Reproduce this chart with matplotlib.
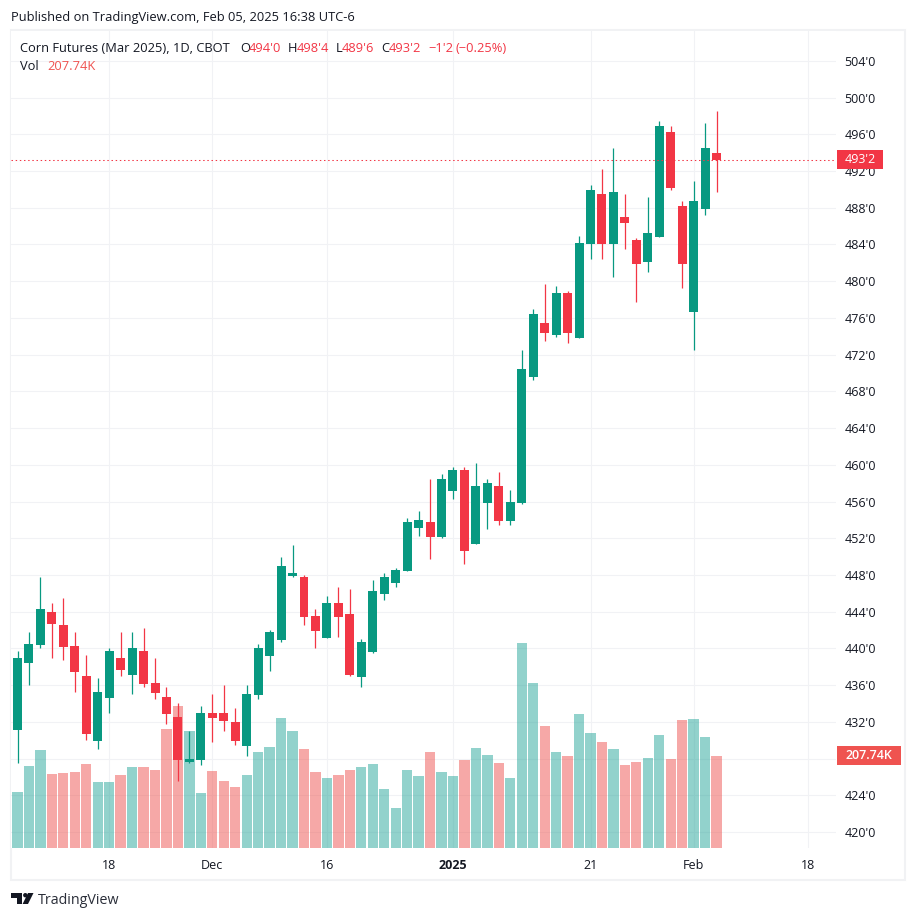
import matplotlib
matplotlib.use("Agg")
import matplotlib.pyplot as plt
from matplotlib.patches import Rectangle, Polygon, Circle
from matplotlib.transforms import IdentityTransform

FONT = "Open Sans"
plt.rcParams['font.family'] = [FONT, 'DejaVu Sans']

opens = [431.1,438.4,440.4,444.0,442.5,440.3,437.0,429.9,434.6,438.95,437.1,439.7,436.2,434.7,432.5,
         427.6,427.85,433.0,433.0,432.0,429.4,434.9,439.2,440.9,447.9,447.8,443.5,441.15,444.95,443.75,
         436.9,439.6,445.9,447.1,448.4,453.1,453.75,452.15,457.15,459.45,451.4,455.85,457.7,453.9,455.85,
         469.55,475.45,474.15,478.7,473.8,484.05,489.5,484.05,487.0,484.5,482.1,484.8,496.25,488.2,476.65,
         487.85,494.0]
highs = [439.75,441.8,447.8,444.9,445.5,441.8,439.3,436.8,440.0,441.8,441.8,442.2,438.95,435.8,434.05,
         431.0,433.7,435.0,436.0,433.5,436.0,440.5,442.0,450.0,451.25,448.0,444.3,445.7,446.7,446.5,
         441.0,447.45,448.2,448.75,454.2,455.0,458.45,459.0,459.75,459.75,460.2,458.45,459.2,457.25,472.5,
         477.0,479.7,479.5,478.95,484.9,490.5,492.2,494.5,489.5,484.7,489.2,497.45,496.9,488.75,490.9,
         497.25,498.5]
lows = [427.5,436.0,440.0,439.0,438.7,435.25,430.0,429.0,433.0,437.0,435.0,435.8,434.5,431.8,425.55,
        427.5,427.3,429.8,431.0,429.5,428.3,434.5,437.5,440.7,447.8,442.55,440.0,441.15,441.25,437.0,
        435.8,439.5,445.25,446.7,448.4,452.25,449.75,452.0,456.25,449.2,451.4,453.0,453.45,453.45,455.75,
        469.25,473.5,473.9,473.25,473.8,482.4,482.4,480.45,483.5,477.75,481.0,484.8,489.95,479.25,472.5,
        487.2,489.75]
closes = [439.0,440.5,444.3,442.7,440.2,437.4,430.7,435.25,439.7,437.65,440.0,436.1,435.15,432.85,427.85,
          427.95,433.0,432.4,432.1,429.9,435.0,440.0,441.8,449.0,448.2,443.4,441.9,444.95,443.4,437.1,
          440.7,446.25,447.8,448.55,453.75,454.0,452.15,458.45,459.45,450.6,457.7,458.0,453.9,455.95,470.45,
          476.45,474.35,478.7,474.35,484.15,489.95,484.05,489.7,486.35,481.85,485.25,496.9,490.15,481.85,488.75,
          494.5,493.25]
volumes = [126.5,185,221,167,169,172,190,149,149,165,183,183,176,269,321,264,124,174,151,138,165,217,228,294,264,
           224,172,158,165,176,183,190,133,90,176,163,217,172,163,199,226,210,192,158,463,373,275,217,208,303,
           260,239,224,187,194,203,255,201,289,291,251,207.74]
date_ticks = [8, 17, 27, 38, 50, 59, 69]
date_labels = ["18", "Dec", "16", "2025", "21", "Feb", "18"]
price_ticks = list(range(420, 508, 4))
hidden_price_labels = [428]  # covered by the volume tag in the reference
last_price_label = "493'2"
last_volume_label = "207.74K"

UP, DOWN = "#089981", "#F23645"
VUP, VDOWN = "#26A69A", "#EF5350"
GRID = "#F1F2F5"
TXT = "#131722"

W, H = 916, 919
fig = plt.figure(figsize=(W/100, H/100), dpi=100, facecolor="white")

L, R, T, B = 11, 836, 31, 848
rect = [L/W, (H-B)/H, (R-L)/W, (B-T)/H]
X0, DX = 17.5, 11.46
xlim = ((L-X0)/DX, (R-X0)/DX)
PPU = 9.18
ylim = (420-(B-832)/PPU, 420+(832-T)/PPU)

ax = fig.add_axes(rect, zorder=0)
ax.set_xlim(xlim); ax.set_ylim(ylim)
ax.set_yticks(price_ticks)
ax.set_yticklabels(["" if p in hidden_price_labels else f"{p}'0" for p in price_ticks], fontsize=9.0, color=TXT)
ax.yaxis.tick_right()
ax.set_xticks(date_ticks)
ax.set_xticklabels(date_labels, fontsize=9.0, color=TXT)
ax.get_xticklabels()[3].set_fontweight("bold")
ax.tick_params(axis="y", length=0, pad=6.0)
ax.tick_params(axis="x", length=0, pad=8.0)
ax.grid(True, color=GRID, lw=0.75)
ax.set_axisbelow(True)
for s in ax.spines.values():
    s.set_visible(False)

xs = list(range(len(closes)))
is_up = [c >= o for o, c in zip(opens, closes)]

axv = fig.add_axes(rect, zorder=1, sharex=ax)
axv.patch.set_visible(False)
axv.set_ylim(0, (B-T)*2.258)
axv.axis("off")
axv.bar(xs, volumes, width=0.9, color=[VUP if u else VDOWN for u in is_up], alpha=0.5, linewidth=0)

axc = fig.add_axes(rect, zorder=2, sharex=ax, sharey=ax)
axc.patch.set_visible(False)
axc.axis("off")
colors = [UP if u else DOWN for u in is_up]
vl = axc.vlines(xs, lows, highs, colors=colors, linewidth=0.9)
vl.set_snap(True)
axc.bar(xs, [abs(c-o) for o, c in zip(opens, closes)], bottom=[min(o, c) for o, c in zip(opens, closes)],
        width=0.785, color=colors, linewidth=0)
hl = axc.axhline(closes[-1], color=DOWN, lw=0.75, linestyle=(0, (1.4, 2.6)))
hl.set_snap(True)
axc.set_xlim(xlim); axc.set_ylim(ylim)

# pane frame
def px_rect(x0, y0, x1, y1, **kw):
    r = Rectangle((x0, H-y1), x1-x0, y1-y0, transform=IdentityTransform(), **kw)
    fig.add_artist(r)
    return r

px_rect(10.5, 30, 905, 880, facecolor="none", edgecolor="#F1F2F4", linewidth=1.5, zorder=-1)

# value tags
fig.canvas.draw()
yp = ax.transData.transform((0, closes[-1]))[1]
yv = axv.transData.transform((0, volumes[-1]))[1]
for x1, yc, col, lab, tx in [(883, yp, DOWN, last_price_label, 845), (901, yv, VDOWN, last_volume_label, 845)]:
    fig.add_artist(Rectangle((837, yc-9.5), x1-837, 19, transform=IdentityTransform(),
                             facecolor=col, edgecolor="none", zorder=5))
    fig.text(tx/W, yc/H, lab, color="white", fontsize=9.0, va="center", ha="left", zorder=6,
             fontweight="semibold" if col == VDOWN else "normal")

# text helpers
def txt(x, y, s, color=TXT, size=9.3, **kw):
    fig.text(x/W, 1-y/H, s, color=color, fontsize=size, va="center", ha="left", zorder=6, **kw)

txt(11, 18, "Published on TradingView.com, Feb 05, 2025 16:38 UTC-6")
txt(20, 48, "Corn Futures (Mar 2025), 1D, CBOT")
for x, s, c in [(240, "O", TXT), (249, "494'0", DOWN), (288, "H", TXT), (297, "498'4", DOWN),
                (336, "L", TXT), (342, "489'6", DOWN), (381, "C", TXT), (389, "493'2", DOWN),
                (428, "\u22121'2", DOWN), (455, "(\u22120.25%)", DOWN)]:
    txt(x, 48, s, color=c)
txt(20, 67, "Vol")
txt(47, 67, "207.74K", color=VDOWN)

# logo
def pts(p):
    return [(x, H-y) for x, y in p]
lk = dict(transform=IdentityTransform(), facecolor="#131722", edgecolor="none", zorder=6)
fig.add_artist(Polygon(pts([(11, 893), (22, 893), (22, 904), (17, 904), (17, 897.5), (11, 897.5)]), **lk))
fig.add_artist(Circle((25.3, H-895.2), 2.2, **lk))
fig.add_artist(Polygon(pts([(28, 893), (33.5, 893), (28, 904), (22.6, 904)]), **lk))
txt(38, 900.5, "TradingView", size=10.3, color="#2A2E39")

fig.savefig("out.png", dpi=100, facecolor="white")
